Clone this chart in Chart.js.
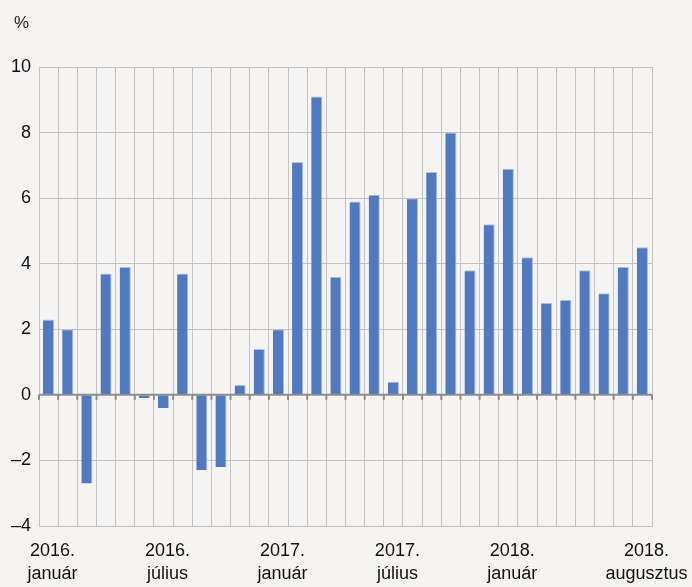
<!DOCTYPE html>
<html>
<head>
<meta charset="utf-8">
<script src="https://cdn.jsdelivr.net/npm/chart.js@4"></script>
<style>
  html, body { margin: 0; padding: 0; background: #f5f4f2; }
  #wrap { width: 692px; height: 587px; position: relative; }
</style>
</head>
<body>
<div id="wrap"><canvas id="chart"></canvas></div>
<script>
// months from 2016 January to 2018 August
const months = [
  '2016-01', '2016-02', '2016-03', '2016-04', '2016-05', '2016-06',
  '2016-07', '2016-08', '2016-09', '2016-10', '2016-11', '2016-12',
  '2017-01', '2017-02', '2017-03', '2017-04', '2017-05', '2017-06',
  '2017-07', '2017-08', '2017-09', '2017-10', '2017-11', '2017-12',
  '2018-01', '2018-02', '2018-03', '2018-04', '2018-05', '2018-06',
  '2018-07', '2018-08'
];
const values = [
  2.3, 2.0, -2.7, 3.7, 3.9, -0.1, -0.4, 3.7, -2.3, -2.2, 0.3, 1.4,
  2.0, 7.1, 9.1, 3.6, 5.9, 6.1, 0.4, 6.0, 6.8, 8.0, 3.8, 5.2,
  6.9, 4.2, 2.8, 2.9, 3.8, 3.1, 3.9, 4.5
];
// shown tick labels (index -> lines)
const tickLabels = {
  0: ['2016.', 'január'],
  6: ['2016.', 'július'],
  12: ['2017.', 'január'],
  18: ['2017.', 'július'],
  24: ['2018.', 'január'],
  31: ['2018.', 'augusztus']
};
const yMin = -4, yMax = 10, yStep = 2;

const font = "'Liberation Sans', Arial, sans-serif";

// zero line with small ticks below it
const zeroLine = {
  id: 'zeroLine',
  afterDatasetsDraw(chart) {
    const { ctx, scales: { x, y }, chartArea } = chart;
    const y0 = y.getPixelForValue(0);
    ctx.save();
    ctx.strokeStyle = '#8c8c8c';
    ctx.lineWidth = 2;
    ctx.beginPath();
    ctx.moveTo(chartArea.left, y0);
    ctx.lineTo(chartArea.right, y0);
    ctx.stroke();
    const n = months.length;
    const w = (chartArea.right - chartArea.left) / n;
    for (let i = 0; i <= n; i++) {
      const px = x.getPixelForValue(0) - w / 2 + i * w;
      ctx.beginPath();
      ctx.moveTo(px, y0);
      ctx.lineTo(px, y0 + 5);
      ctx.stroke();
    }
    ctx.restore();
  }
};

const percentLabel = {
  id: 'percentLabel',
  afterDraw(chart) {
    const { ctx } = chart;
    ctx.save();
    ctx.fillStyle = '#1a1a1a';
    ctx.font = "17px " + font;
    ctx.textBaseline = 'middle';
    ctx.fillText('%', 14, 23);
    ctx.restore();
  }
};

new Chart(document.getElementById('chart'), {
  type: 'bar',
  data: {
    labels: months,
    datasets: [{
      data: values,
      backgroundColor: '#5079c0',
      borderColor: '#a9bfe3',
      borderWidth: { top: 1, right: 1, left: 0, bottom: 0 },
      barPercentage: 0.58,
      categoryPercentage: 1.0
    }]
  },
  options: {
    responsive: true,
    maintainAspectRatio: false,
    animation: false,
    layout: { padding: { top: 67, right: 40, left: 0, bottom: 0 } },
    plugins: {
      legend: { display: false },
      tooltip: { enabled: false }
    },
    scales: {
      x: {
        offset: true,
        afterFit: s => { s.height = 61; s.paddingLeft = 0; s.paddingRight = 0; },
        grid: {
          offset: true,
          color: '#c2c2c2',
          lineWidth: 1,
          drawTicks: false
        },
        border: { display: true, color: '#c2c2c2' },
        ticks: {
          autoSkip: false,
          maxRotation: 0,
          padding: 13,
          labelOffset: 4,
          color: '#111',
          font: { family: font, size: 18, lineHeight: 1.3 },
          callback: (v, i) => tickLabels[i] || ''
        }
      },
      y: {
        min: yMin,
        max: yMax,
        afterFit: s => { s.width = 39; },
        grid: {
          color: '#c2c2c2',
          lineWidth: 1,
          drawTicks: false
        },
        border: { display: true, color: '#c2c2c2' },
        ticks: {
          stepSize: yStep,
          padding: 8,
          color: '#111',
          font: { family: font, size: 18 },
          callback: v => String(v).replace('-', '\u2013')
        }
      }
    }
  },
  plugins: [zeroLine, percentLabel]
});
</script>
</body>
</html>
